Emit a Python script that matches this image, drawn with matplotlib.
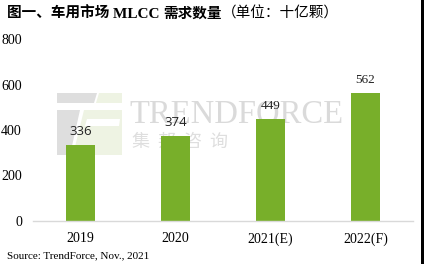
import matplotlib
matplotlib.use('Agg')
import matplotlib.pyplot as plt
from matplotlib.patches import Polygon

# Data
categories = ['2019', '2020', '2021(E)', '2022(F)']
values = [336, 374, 449, 562]
yticks = [0, 200, 400, 600, 800]

W, H = 424, 264
BAR_COLOR = '#78AF2A'
SERIF = ['Liberation Serif', 'DejaVu Serif']
CJK = ['Noto Sans CJK SC', 'Liberation Serif', 'DejaVu Sans']


def px(x, y):
    """Pixel (top-left origin) -> figure fraction."""
    return x / W, 1 - y / H


fig = plt.figure(figsize=(W / 100, H / 100), dpi=100)
fig.patch.set_facecolor('white')

ax = fig.add_axes([33 / W, 43 / H, 380 / W, 182 / H])
ax.set_facecolor('none')

# watermark logo (decoration)
logo_gray = [[(57, 93), (97, 93), (94, 103), (57, 103)],
             [(57, 110), (80, 110), (70, 155), (57, 155)]]
logo_green = [[(99, 93), (122, 93), (122, 103), (96, 103)],
              [(84, 110), (122, 110), (122, 155), (73, 155)]]
for pts in logo_gray:
    fig.patches.append(Polygon([px(*p) for p in pts], closed=True, transform=fig.transFigure,
                               facecolor='#DEDEDE', edgecolor='none', zorder=-1))
for pts in logo_green:
    fig.patches.append(Polygon([px(*p) for p in pts], closed=True, transform=fig.transFigure,
                               facecolor='#EEF3E3', edgecolor='none', zorder=-1))
fig.patches.append(Polygon([px(*p) for p in [(87, 119), (120, 119), (119, 126), (85, 126)]],
                           closed=True, transform=fig.transFigure,
                           facecolor='white', edgecolor='none', zorder=-1))
fig.text(*px(129, 123), 'TRENDFORCE', fontsize=23.5, family=SERIF, color='#DADADA',
         ha='left', va='baseline', zorder=-1)
fig.text(*px(132, 147), '集  邦  咨  询', fontsize=13, family=CJK, color='#DEDEDE',
         ha='left', va='baseline', zorder=-1)

x = range(len(categories))
bars = ax.bar(x, values, width=0.31, color=BAR_COLOR, zorder=2)

label_fonts = [['Open Sans'], ['Open Sans'], SERIF, SERIF]
for xi, v, fam in zip(x, values, label_fonts):
    ax.annotate(str(v), (xi, v), xytext=(0, 5), textcoords='offset points',
                ha='center', va='bottom', fontsize=9.5, family=fam, color='#222222')

ax.set_xlim(-0.5, 3.5)
ax.set_ylim(0, 800)
ax.set_yticks(yticks)
ax.set_yticklabels([str(t) for t in yticks], family=SERIF, fontsize=10)
ax.set_xticks(list(x))
ax.set_xticklabels(categories, family=SERIF, fontsize=10)
ax.tick_params(axis='y', length=0, pad=8)
ax.tick_params(axis='x', length=0, pad=8)
for s in ['top', 'right', 'left']:
    ax.spines[s].set_visible(False)
ax.spines['bottom'].set_color('#D9D9D9')
ax.spines['bottom'].set_linewidth(1)

# title
t1 = fig.text(*px(7, 18), '图一、车用市场 ', fontsize=10.5, family=CJK, fontweight='bold',
              ha='left', va='baseline')
fig.canvas.draw()
r = fig.canvas.get_renderer()
bb = t1.get_window_extent(r)
t2 = fig.text(bb.x1 / W, 1 - 18 / H, 'MLCC ', fontsize=11, family=SERIF, fontweight='bold',
              ha='left', va='baseline')
bb = t2.get_window_extent(r)
t3 = fig.text(bb.x1 / W, 1 - 18 / H, '需求数量', fontsize=10.5, family=CJK, fontweight='bold',
              ha='left', va='baseline')
bb = t3.get_window_extent(r)
fig.text(bb.x1 / W, 1 - 18 / H, '（单位：十亿颗）', fontsize=10.5, family=CJK,
         ha='left', va='baseline')

fig.text(*px(7, 258), 'Source: TrendForce, Nov., 2021', fontsize=8, family=SERIF,
         ha='left', va='baseline')

# dark strip at right edge
fig.patches.append(Polygon([px(421, 0), px(424, 0), px(424, 264), px(421, 264)], closed=True,
                           transform=fig.transFigure, facecolor='black', edgecolor='none'))

fig.savefig('out.png', dpi=100)
